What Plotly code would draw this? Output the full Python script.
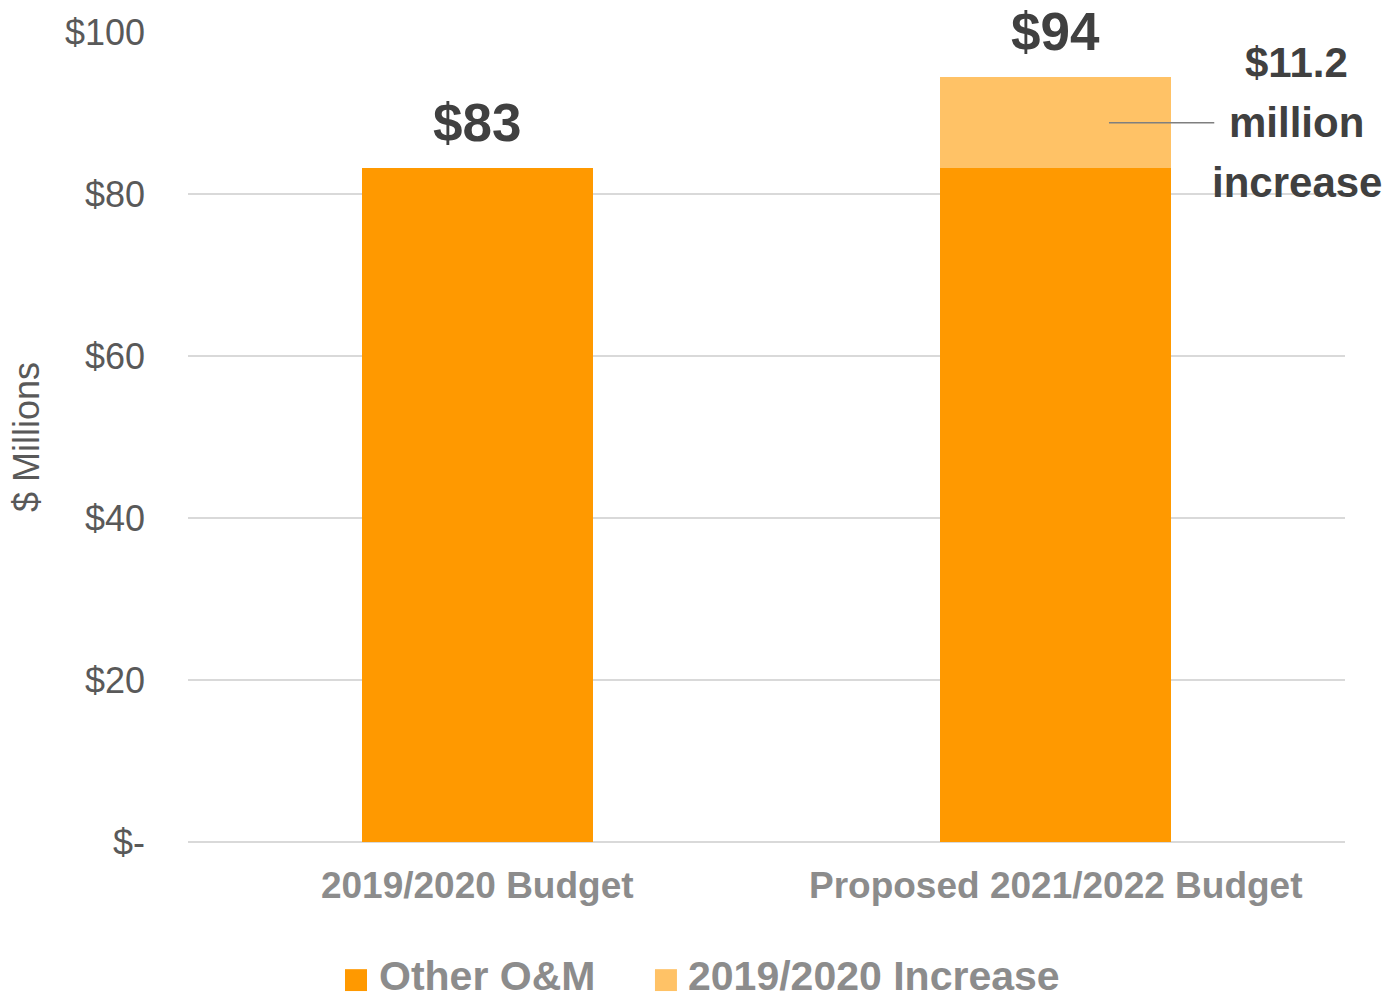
import plotly.graph_objects as go

# Budget data ($ millions)
categories = ["2019/2020 Budget", "Proposed 2021/2022 Budget"]
other_om = [83.2, 83.2]
increase = [0, 11.2]
totals = [a + b for a, b in zip(other_om, increase)]
total_labels = ["$83", "$94"]
increase_label_lines = ["$11.2", "million", "increase"]
series_names = ["Other O&M", "2019/2020 Increase"]
y_ticks = [0, 20, 40, 60, 80, 100]
y_tick_text = ["$-", "$20", "$40", "$60", "$80", "$100"]

FONT = "Liberation Sans, Arial, sans-serif"
ORANGE = "#FF9900"
LIGHT_ORANGE = "#FFC266"
series_colors = [ORANGE, LIGHT_ORANGE]

fig = go.Figure()
for name, vals, col in zip(series_names, [other_om, increase], series_colors):
    fig.add_trace(go.Bar(
        x=categories, y=vals, name=name,
        marker=dict(color=col, line=dict(width=0)), width=0.4,
        showlegend=False,
    ))

# Total labels above each stack
for cat, tot, lab in zip(categories, totals, total_labels):
    fig.add_annotation(
        x=cat, y=tot, text=lab, showarrow=False, yanchor="bottom", yshift=14,
        font=dict(family=FONT, size=53, color="#404040", weight="bold"),
    )

# Callout for the increase segment
mid_inc = other_om[1] + increase[1] / 2
fig.add_shape(
    type="line", xref="x", yref="y",
    x0=1.092, x1=1.274, y0=mid_inc, y1=mid_inc,
    line=dict(color="#7f7f7f", width=1.5),
)
line_y = [mid_inc + 7.4, mid_inc, mid_inc - 7.4]
for txt, yy in zip(increase_label_lines, line_y):
    fig.add_annotation(
        x=1.417, y=yy, xref="x", yref="y", text=txt, showarrow=False,
        xanchor="center", yanchor="middle",
        font=dict(family=FONT, size=42, color="#404040", weight="bold"),
    )

# Legend drawn below the plot with large square keys
legend_keys = [(0.1357, 0.1634), (0.4036, 0.4304)]
for (kx, tx), name, col in zip(legend_keys, series_names, series_colors):
    fig.add_shape(
        type="rect", xref="paper", yref="paper",
        x0=kx, x1=kx + 0.019, y0=-0.184, y1=-0.157,
        fillcolor=col, line=dict(width=0),
    )
    fig.add_annotation(
        x=tx, y=-0.1655, xref="paper", yref="paper", text=name,
        showarrow=False, xanchor="left", yanchor="middle",
        font=dict(family=FONT, size=41, color="#8c8c8c", weight="bold"),
    )

fig.update_layout(
    barmode="stack",
    width=1395, height=1001,
    margin=dict(l=188, r=50, t=32, b=159),
    plot_bgcolor="white", paper_bgcolor="white",
    showlegend=False,
    xaxis=dict(
        range=[-0.5, 1.5], automargin=False,
        tickfont=dict(family=FONT, size=37, color="#8c8c8c", weight="bold"),
        showgrid=False, showline=False, zeroline=False,
        ticks="", ticklabelstandoff=18,
    ),
    yaxis=dict(
        range=[0, 100], tickvals=y_ticks, ticktext=y_tick_text, automargin=False,
        tickfont=dict(family=FONT, size=36, color="#595959"),
        showgrid=True, gridcolor="#D9D9D9", gridwidth=2,
        zeroline=True, zerolinecolor="#D9D9D9", zerolinewidth=2,
        showline=False, ticks="", ticklabelstandoff=42,
        title=dict(text="$ Millions", standoff=14,
                   font=dict(family=FONT, size=36, color="#595959")),
    ),
)

fig.write_html("out.html")
